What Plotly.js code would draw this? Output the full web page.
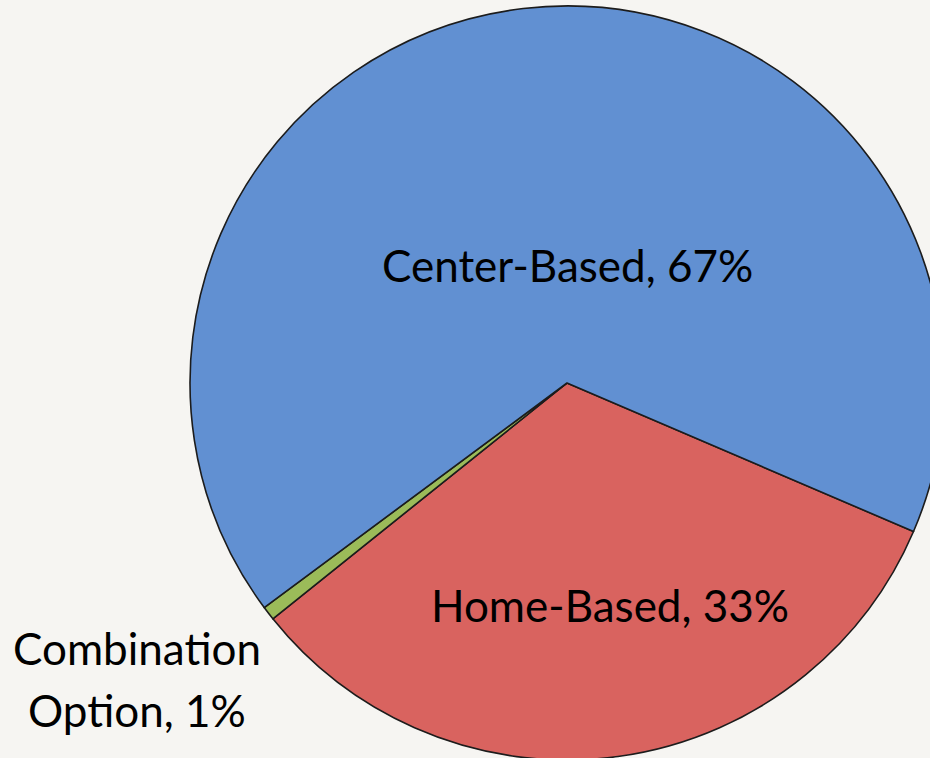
<!DOCTYPE html>
<html><head><meta charset="utf-8">
<script src="https://cdn.plot.ly/plotly-3.0.1.min.js"></script>
<style>html,body{margin:0;padding:0;overflow:hidden;background:#f6f5f2;width:930px;height:758px}#chart{width:1134px;height:766px}</style>
</head><body><div id="chart"></div>
<script>
const labels = ['Home-Based', 'Combination Option', 'Center-Based'];
const values = [32.8, 0.6, 66.6];
const colors = ['#d9635f', '#9bbb59', '#6190d2'];
const startAngle = 113.2;

const total = values.reduce((a, b) => a + b, 0);
const pct = values.map(v => Math.round(v / total * 100) + '%');

const trace = {
  type: 'pie',
  labels: labels,
  values: values,
  sort: false,
  direction: 'clockwise',
  rotation: startAngle,
  marker: {colors: colors, line: {color: '#1c1c1c', width: 1.6}},
  textinfo: 'none',
  hoverinfo: 'none',
  showlegend: false
};

const F = {family: 'Lato, Calibri, sans-serif', size: 44, color: '#000'};
const ann = (text, x, y) => ({text: text, xref: 'paper', yref: 'paper', x: x, y: y,
  xanchor: 'center', yanchor: 'middle', showarrow: false, font: F});
const comboWords = labels[1].split(' ');

const layout = {
  width: 1134, height: 766,
  margin: {l: 0, r: 0, t: 6, b: 6},
  paper_bgcolor: '#f6f5f2',
  plot_bgcolor: '#f6f5f2',
  showlegend: false,
  annotations: [
    ann(labels[2] + ', ' + pct[2], 0.5, 0.6565),
    ann(labels[0] + ', ' + pct[0], 0.5379, 0.2056),
    ann(comboWords[0], 0.1208, 0.1485),
    ann(comboWords[1] + ', ' + pct[1], 0.1208, 0.0663)
  ]
};

Plotly.newPlot('chart', [trace], layout, {displayModeBar: false, staticPlot: true});
</script></body></html>
